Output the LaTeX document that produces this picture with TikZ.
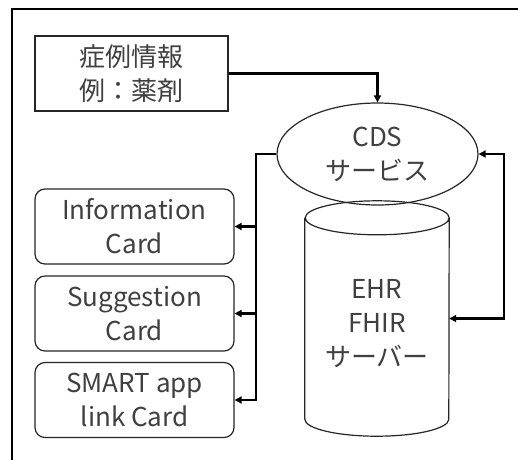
\documentclass[tikz,border=0pt]{standalone}
\usepackage{fontspec}
\setmainfont{Noto Sans CJK JP}
\usetikzlibrary{shapes.geometric,arrows.meta}
\begin{document}
\begin{tikzpicture}[x=1pt,y=-1pt,
  txt/.style={font=\fontsize{26}{34}\selectfont, text=black!75, align=center},
  box/.style={txt, draw=black!85, line width=1.2pt, inner sep=0pt},
  card/.style={box, rounded corners=10pt, minimum width=199pt, minimum height=75pt},
  conn/.style={line width=2.6pt, black},
  tip/.style={-{Triangle[length=7pt,width=7pt]}},
  tipb/.style={{Triangle[length=7pt,width=7pt]}-{Triangle[length=7pt,width=7pt]}}
]
\useasboundingbox (0,0) rectangle (518,459);
\fill[white] (0,0) rectangle (518,459);
% frame
\draw[line width=1.5pt] (12,470) -- (12,9) -- (530,9);
% nodes
\node[box, minimum width=193pt, minimum height=75pt] (case) at (131.5,73.5) {症例情報\\例：薬剤};
\node[box, ellipse, minimum width=201pt, minimum height=102pt] (cds) at (377.5,154) {CDS\\サービス};
\node[card] (c1) at (134.5,226.5) {Information\\Card};
\node[card] (c2) at (134.5,313.5) {Suggestion\\Card};
\node[card] (c3) at (134.5,400) {SMART app\\link Card};
% cylinder
\node[txt, minimum width=144pt, minimum height=167pt, inner sep=0pt] (ehr) at (377,318.5) {};
\draw[draw=black!85, line width=1.2pt]
  ([yshift=17pt]ehr.north west) -- ([yshift=-17pt]ehr.south west)
  arc[start angle=180, end angle=360, x radius=72pt, y radius=17pt]
  -- ([yshift=17pt]ehr.north east)
  arc[start angle=0, end angle=180, x radius=72pt, y radius=17pt]
  arc[start angle=180, end angle=360, x radius=72pt, y radius=17pt];
\node[txt] at (377,324) {EHR\\FHIR\\サーバー};
% connectors
\coordinate (lbus) at (256,0);
\coordinate (rbus) at (504,0);
\draw[conn, tip] (case.east) -| (cds.north);
\draw[conn, tip] (cds.west) -| (lbus |- c3.east) -- (c3.east);
\draw[conn, tip] (lbus |- c1.east) -- (c1.east);
\draw[conn, tip] (lbus |- c2.east) -- (c2.east);
\draw[conn, tipb] (ehr.east) -| (rbus |- cds.east) -- (cds.east);
\end{tikzpicture}
\end{document}
